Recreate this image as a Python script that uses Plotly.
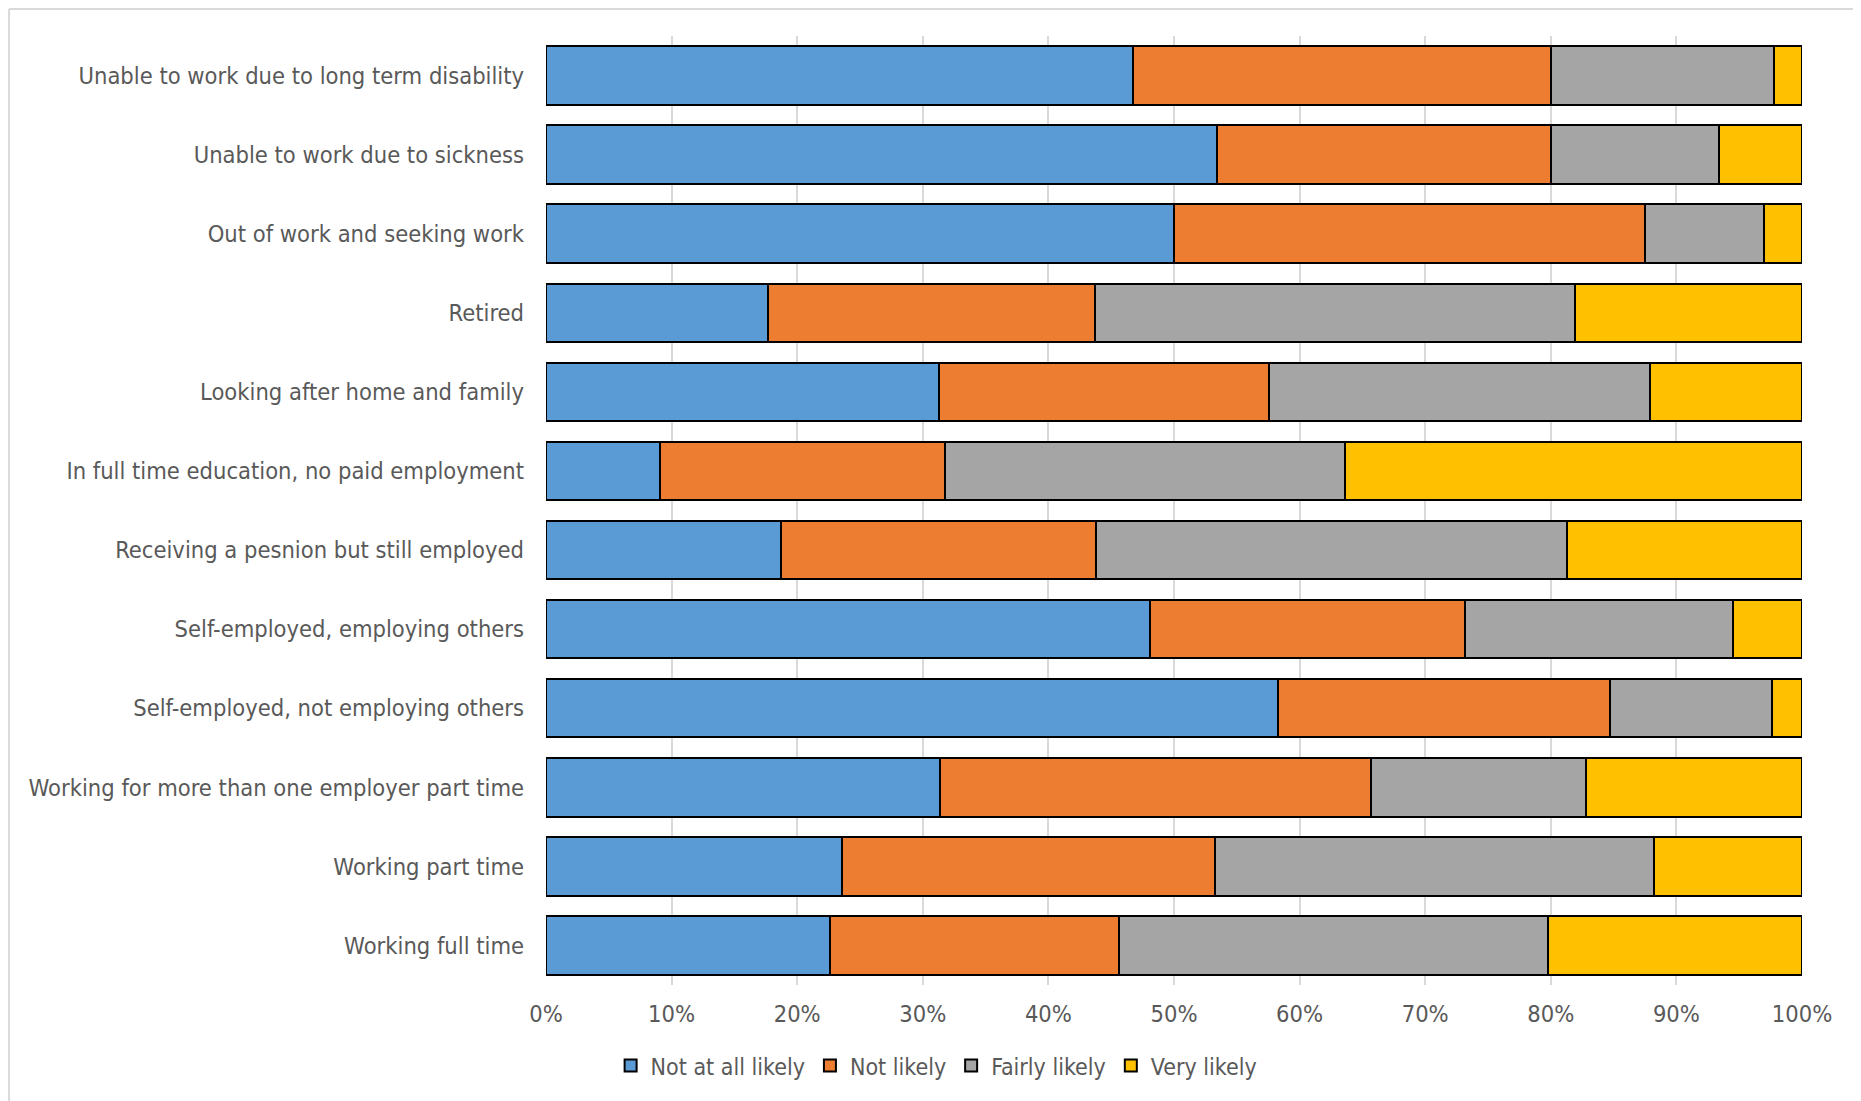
import plotly.graph_objects as go

categories = [
    "Unable to work due to long term disability",
    "Unable to work due to sickness",
    "Out of work and seeking work",
    "Retired",
    "Looking after home and family",
    "In full time education, no paid employment",
    "Receiving a pesnion but still employed",
    "Self-employed, employing others",
    "Self-employed, not employing others",
    "Working for more than one employer part time",
    "Working part time",
    "Working full time",
]

not_at_all_likely = [46.7, 53.4, 50.0, 17.7, 31.3, 9.1, 18.7, 48.1, 58.3, 31.4, 23.6, 22.6]
not_likely        = [33.3, 26.6, 37.5, 26.0, 26.3, 22.7, 25.1, 25.1, 26.4, 34.3, 29.7, 23.0]
fairly_likely     = [17.8, 13.4, 9.5, 38.2, 30.3, 31.8, 37.5, 21.3, 12.9, 17.1, 34.9, 34.2]
very_likely       = [2.2, 6.6, 3.0, 18.1, 12.1, 36.4, 18.7, 5.5, 2.4, 17.2, 11.8, 20.2]

series_names = ["Not at all likely", "Not likely", "Fairly likely", "Very likely"]
series_values = [not_at_all_likely, not_likely, fairly_likely, very_likely]
series_colors = ["#5B9BD5", "#ED7D31", "#A5A5A5", "#FFC000"]

tick_vals = [0, 10, 20, 30, 40, 50, 60, 70, 80, 90, 100]
tick_text = [f"{v}%" for v in tick_vals]

FONT = "DejaVu Sans Condensed"
TXT = "#595959"
FS = 23.5

fig = go.Figure()
for name, vals, col in zip(series_names, series_values, series_colors):
    fig.add_trace(go.Bar(
        y=categories, x=vals, name=name, orientation="h",
        marker=dict(color=col, line=dict(color="#000000", width=2)),
    ))

fig.update_layout(
    barmode="stack",
    bargap=0.26,
    width=1861, height=1101,
    margin=dict(l=538, r=67, t=28, b=124),
    paper_bgcolor="white", plot_bgcolor="white",
    font=dict(family=FONT, size=FS, color=TXT),
    showlegend=True,
    legend=dict(orientation="h", x=0.311, xanchor="center", y=-0.085, yanchor="middle",
                font=dict(family=FONT, size=23, color=TXT), traceorder="normal",
                itemwidth=30, tracegroupgap=0),
    xaxis=dict(range=[0, 100], tickvals=tick_vals, ticktext=tick_text,
               showgrid=True, gridcolor="#D9D9D9", gridwidth=2,
               zeroline=False, showline=False, ticks="", ticklabelstandoff=12,
               tickfont=dict(family=FONT, size=FS, color=TXT)),
    yaxis=dict(autorange="reversed", showgrid=False, zeroline=False, showline=False,
               ticks="", ticklabelstandoff=21,
               tickfont=dict(family=FONT, size=FS, color=TXT)),
    shapes=[
        dict(type="line", xref="paper", yref="paper", x0=-0.4275, x1=-0.4275, y0=-0.2, y1=1.0285,
             line=dict(color="#D9D9D9", width=2)),
        dict(type="line", xref="paper", yref="paper", x0=-0.4275, x1=1.1, y0=1.0285, y1=1.0285,
             line=dict(color="#D9D9D9", width=2)),
    ],
)

fig.write_html("out.html")
